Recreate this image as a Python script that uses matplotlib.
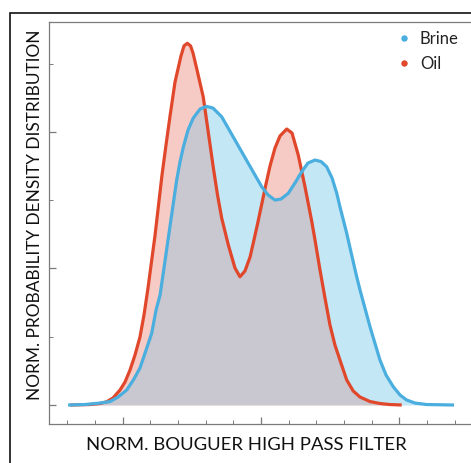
import matplotlib
matplotlib.use("Agg")
import matplotlib.pyplot as plt
from matplotlib.patches import Rectangle
from matplotlib.ticker import MultipleLocator, NullFormatter

# Normalised Bouguer high-pass values and their normalised densities
brine_x = [-1.393, -1.271, -1.162, -1.090, -1.032, -0.970, -0.922, -0.874, -0.830, -0.789,
           -0.758, -0.729, -0.708, -0.682, -0.657, -0.635, -0.609, -0.585, -0.561, -0.527,
           -0.489, -0.440, -0.394, -0.347, -0.284, -0.188, -0.092, 0.005, 0.051, 0.101,
           0.144, 0.197, 0.245, 0.294, 0.339, 0.390, 0.433, 0.474, 0.513, 0.547,
           0.570, 0.619, 0.643, 0.691, 0.715, 0.787, 0.859, 0.903, 0.955, 1.004,
           1.052, 1.112, 1.196, 1.394]
brine_y = [0.000, 0.007, 0.029, 0.051, 0.117, 0.220, 0.366, 0.542, 0.805, 1.054,
           1.391, 1.611, 1.903, 2.269, 2.621, 2.928, 3.294, 3.558, 3.777, 4.026,
           4.202, 4.334, 4.373, 4.348, 4.221, 3.880, 3.539, 3.196, 3.075, 3.001,
           3.016, 3.100, 3.250, 3.416, 3.543, 3.587, 3.565, 3.489, 3.324, 3.100,
           2.903, 2.514, 2.299, 1.878, 1.684, 1.146, 0.659, 0.439, 0.268, 0.146,
           0.073, 0.029, 0.007, 0.000]

oil_x = [-1.379, -1.235, -1.162, -1.114, -1.069, -1.018, -0.982, -0.946, -0.910, -0.874,
         -0.845, -0.816, -0.791, -0.765, -0.740, -0.715, -0.686, -0.657, -0.621, -0.578,
         -0.556, -0.532, -0.509, -0.491, -0.462, -0.417, -0.381, -0.344, -0.314, -0.284,
         -0.236, -0.188, -0.152, -0.116, -0.079, -0.051, -0.022, 0.007, 0.036, 0.065,
         0.101, 0.137, 0.186, 0.224, 0.269, 0.318, 0.366, 0.390, 0.426, 0.462,
         0.498, 0.534, 0.570, 0.619, 0.666, 0.715, 0.787, 0.859, 0.931, 1.016]
oil_y = [0.000, 0.007, 0.022, 0.048, 0.102, 0.220, 0.337, 0.512, 0.732, 0.996,
         1.318, 1.713, 2.094, 2.489, 2.928, 3.367, 3.807, 4.231, 4.729, 5.110,
         5.259, 5.296, 5.259, 5.154, 4.905, 4.509, 3.997, 3.470, 3.075, 2.738,
         2.343, 2.006, 1.878, 1.962, 2.167, 2.416, 2.679, 2.958, 3.236, 3.499,
         3.763, 3.939, 4.041, 3.982, 3.660, 3.192, 2.694, 2.416, 1.977, 1.567,
         1.171, 0.878, 0.659, 0.366, 0.205, 0.117, 0.051, 0.022, 0.007, 0.000]

series_labels = ["Brine", "Oil"]
x_label = "NORM. BOUGUER HIGH PASS FILTER"
y_label = "NORM. PROBABILITY DENSITY DISTRIBUTION"

BLUE = "#4aaedf"
RED = "#e0472b"
BLUE_FILL = "#c4e7f6"
RED_FILL = "#f7cbc5"
BOTH_FILL = "#c9c7d0"
FONT = ["Lato", "DejaVu Sans"]

W, H = 471, 463
fig = plt.figure(figsize=(W / 100, H / 100), dpi=100)
fig.patch.set_facecolor("white")

# outer frame running off the right and bottom edges
fig.patches.append(Rectangle((9.5 / W, -0.1), 1.2, (H - 13.3) / H + 0.1,
                             transform=fig.transFigure, fill=False,
                             edgecolor="#111111", linewidth=1.2, zorder=0))

ax = fig.add_axes([49 / W, (H - 424) / H, (478 - 49) / W, (424 - 22) / H])
ax.set_xlim(-1.531, 1.567)
ax.set_ylim(-0.278, 5.608)

# filled densities; the overlap is shaded separately
blue_fill = ax.fill_between(brine_x, brine_y, 0, color=BLUE_FILL, linewidth=0, zorder=1)
ax.fill_between(oil_x, oil_y, 0, color=RED_FILL, linewidth=0, zorder=2)
overlap = ax.fill_between(oil_x, oil_y, 0, color=BOTH_FILL, linewidth=0, zorder=3)
clip = blue_fill.get_paths()[0]
overlap.set_clip_path(clip, ax.transData)

ax.plot(oil_x, oil_y, color=RED, linewidth=2.3, zorder=4,
        solid_capstyle="butt", solid_joinstyle="round")
ax.plot(brine_x, brine_y, color=BLUE, linewidth=2.3, zorder=5,
        solid_capstyle="butt", solid_joinstyle="round")

# legend with small dots
ax.plot([], [], "o", color=BLUE, markersize=3.6, label=series_labels[0])
ax.plot([], [], "o", color=RED, markersize=3.6, label=series_labels[1])
leg = ax.legend(loc="upper right", bbox_to_anchor=((468 - 49) / (478 - 49), 1.0),
                frameon=False, handlelength=0.5, handletextpad=0.7, labelspacing=0.55,
                borderaxespad=0.15, prop={"family": FONT, "size": 12})
for t in leg.get_texts():
    t.set_color("#222222")

for side in ["left", "bottom", "top", "right"]:
    ax.spines[side].set_color("#7a7a7a")
    ax.spines[side].set_linewidth(0.9)

ax.xaxis.set_major_locator(MultipleLocator(1.0))
ax.xaxis.set_minor_locator(MultipleLocator(0.2))
ax.yaxis.set_major_locator(MultipleLocator(2.0))
ax.yaxis.set_minor_locator(MultipleLocator(1.0))
ax.xaxis.set_major_formatter(NullFormatter())
ax.yaxis.set_major_formatter(NullFormatter())
ax.tick_params(which="both", direction="in", colors="#7a7a7a", top=False, right=False)
ax.tick_params(which="major", length=5, width=0.9)
ax.tick_params(which="minor", length=3, width=0.7)

fig.text(246 / W, (H - 445) / H, x_label, ha="center", va="center",
         fontsize=13.3, family=FONT, color="#111111")
fig.text(35 / W, (H - 215) / H, y_label, ha="center", va="center", rotation=90,
         fontsize=12.4, family=FONT, color="#111111")

fig.savefig("out.png", dpi=100, facecolor="white")
